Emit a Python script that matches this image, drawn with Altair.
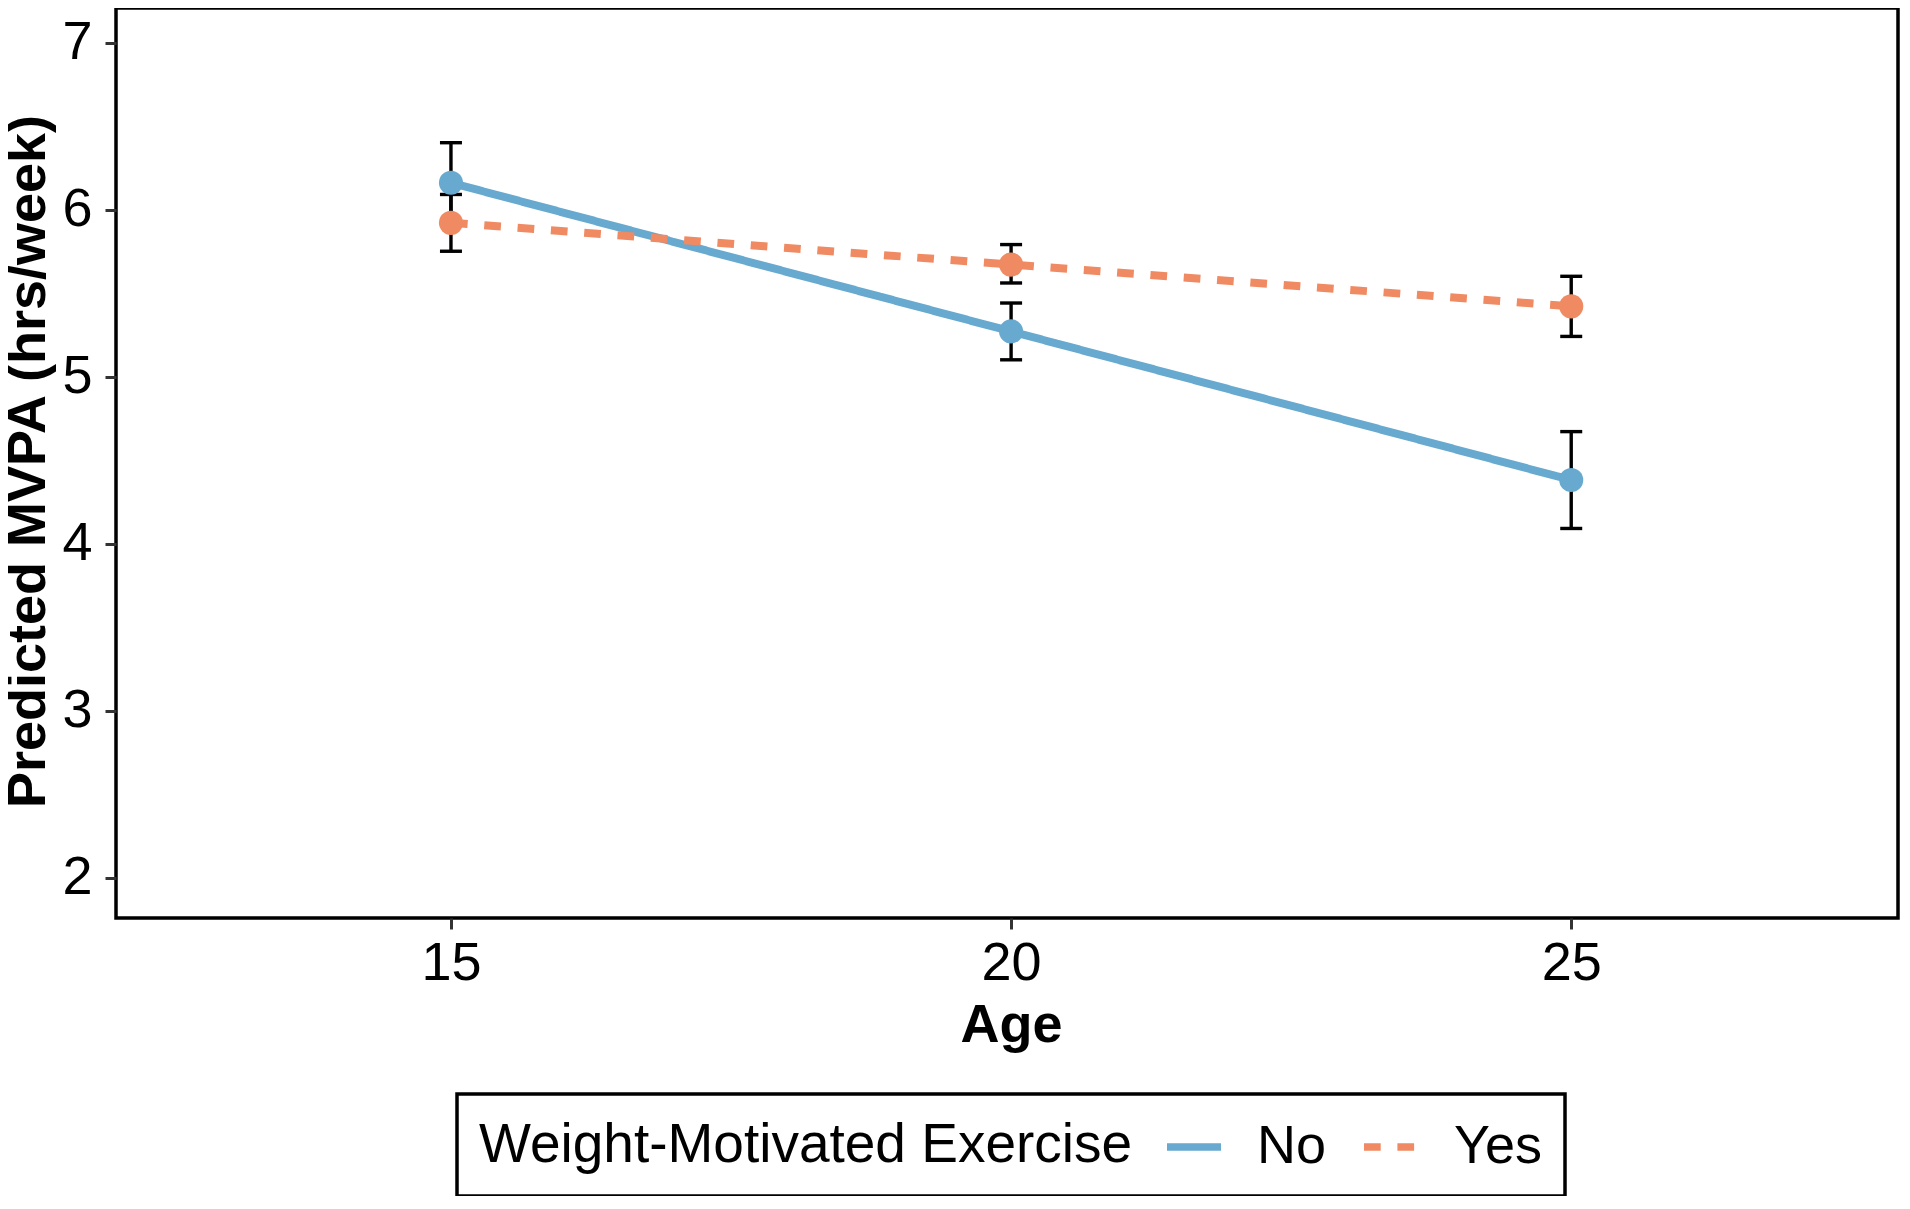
import altair as alt
import pandas as pd

# ---- data ----
ages = [15, 20, 25]
groups = ["No", "Yes"]
no_pred = [6.16, 5.27, 4.38]
no_lo = [5.92, 5.10, 4.09]
no_hi = [6.40, 5.44, 4.67]
yes_pred = [5.92, 5.67, 5.42]
yes_lo = [5.75, 5.56, 5.24]
yes_hi = [6.09, 5.79, 5.60]
colors = ["#67a9cf", "#ef8a62"]
x_ticks = [15, 20, 25]
y_ticks = [2, 3, 4, 5, 6, 7]

rows = []
for g, pr, lo, hi, c in zip(groups, [no_pred, yes_pred], [no_lo, yes_lo],
                            [no_hi, yes_hi], colors):
    for a, p, l, h in zip(ages, pr, lo, hi):
        rows.append(dict(age=a, group=g, pred=p, lo=l, hi=h, hex=c))
df = pd.DataFrame(rows)

FONT = "Liberation Sans"
FS = 54
Y_TITLE = "Predicted MVPA (hrs/week)"
W, H = 1782, 910

x_axis = alt.Axis(values=x_ticks, title="Age", grid=False, domain=False,
                  tickSize=11, tickWidth=3, tickColor="#333333",
                  labelFont=FONT, labelFontSize=FS, labelColor="black",
                  labelPadding=50, labelBaseline="alphabetic", format="d",
                  titleFont=FONT, titleFontSize=FS, titleFontWeight="bold",
                  titleColor="black", titleX=895, titleY=123,
                  titleBaseline="alphabetic", titleAngle=0, titleLimit=0)
y_axis = alt.Axis(values=y_ticks, title=Y_TITLE, grid=False,
                  domain=False, tickSize=11, tickWidth=3, tickColor="#333333",
                  labelFont=FONT, labelFontSize=FS, labelColor="black",
                  labelPadding=13, format="d",
                  titleFont=FONT, titleFontSize=FS, titleFontWeight="bold",
                  titleColor="black", titleX=-72, titleY=453, titleAngle=270,
                  titleBaseline="alphabetic", titleAlign="center",
                  titleLimit=0)

xs = alt.Scale(domain=[12.01, 27.917], nice=False, zero=False)
ys = alt.Scale(domain=[1.7575, 7.2066], nice=False, zero=False)

X = alt.X("age:Q", scale=xs, axis=x_axis)

legend = alt.Legend(orient="none", legendX=341, legendY=1086,
                    direction="horizontal", title="Weight-Motivated Exercise",
                    titleOrient="left", titleFont=FONT, titleFontSize=55,
                    titleFontWeight="normal", titleColor="black",
                    titleLimit=0, titlePadding=30, titleAnchor="middle",
                    titleBaseline="middle",
                    labelFont=FONT, labelFontSize=FS, labelColor="black",
                    labelLimit=0, labelOffset=32, columnPadding=22,
                    symbolType="stroke", symbolSize=2916, symbolStrokeWidth=7.5,
                    padding=22, strokeColor="black")

base = alt.Chart(df)

err_rule = base.mark_rule(color="black", strokeWidth=3.4).encode(
    x=X,
    y=alt.Y("lo:Q", scale=ys, axis=y_axis),
    y2="hi:Q",
)
cap_lo = base.mark_tick(color="black", orient="horizontal", size=22,
                        thickness=3.4, opacity=1).encode(
    x=X, y=alt.Y("lo:Q", scale=ys, axis=y_axis))
cap_hi = base.mark_tick(color="black", orient="horizontal", size=22,
                        thickness=3.4, opacity=1).encode(
    x=X, y=alt.Y("hi:Q", scale=ys, axis=y_axis))

lines = base.mark_line(strokeWidth=8).encode(
    x=X,
    y=alt.Y("pred:Q", scale=ys, axis=y_axis),
    color=alt.Color("group:N", scale=alt.Scale(domain=groups, range=colors),
                    legend=legend),
    strokeDash=alt.StrokeDash("group:N",
                              scale=alt.Scale(domain=groups,
                                              range=[[1, 0], [16.7, 16.7]]),
                              legend=legend),
)

points = base.mark_circle(size=580, opacity=1).encode(
    x=X,
    y=alt.Y("pred:Q", scale=ys, axis=y_axis),
    color=alt.Color("hex:N", scale=None),
)

chart = alt.layer(err_rule, cap_lo, cap_hi, lines, points).properties(
    width=W, height=H,
    autosize=alt.AutoSizeParams(type="none"),
    padding={"left": 108, "top": 0, "right": 2, "bottom": 278},
).configure_view(
    stroke="black", strokeWidth=3.5
).configure_axis(
    titleLimit=0, labelLimit=0
).configure_legend(
    strokeWidth=3.5
)

chart.save("out.html", embed_options={"renderer": "svg", "actions": False})
